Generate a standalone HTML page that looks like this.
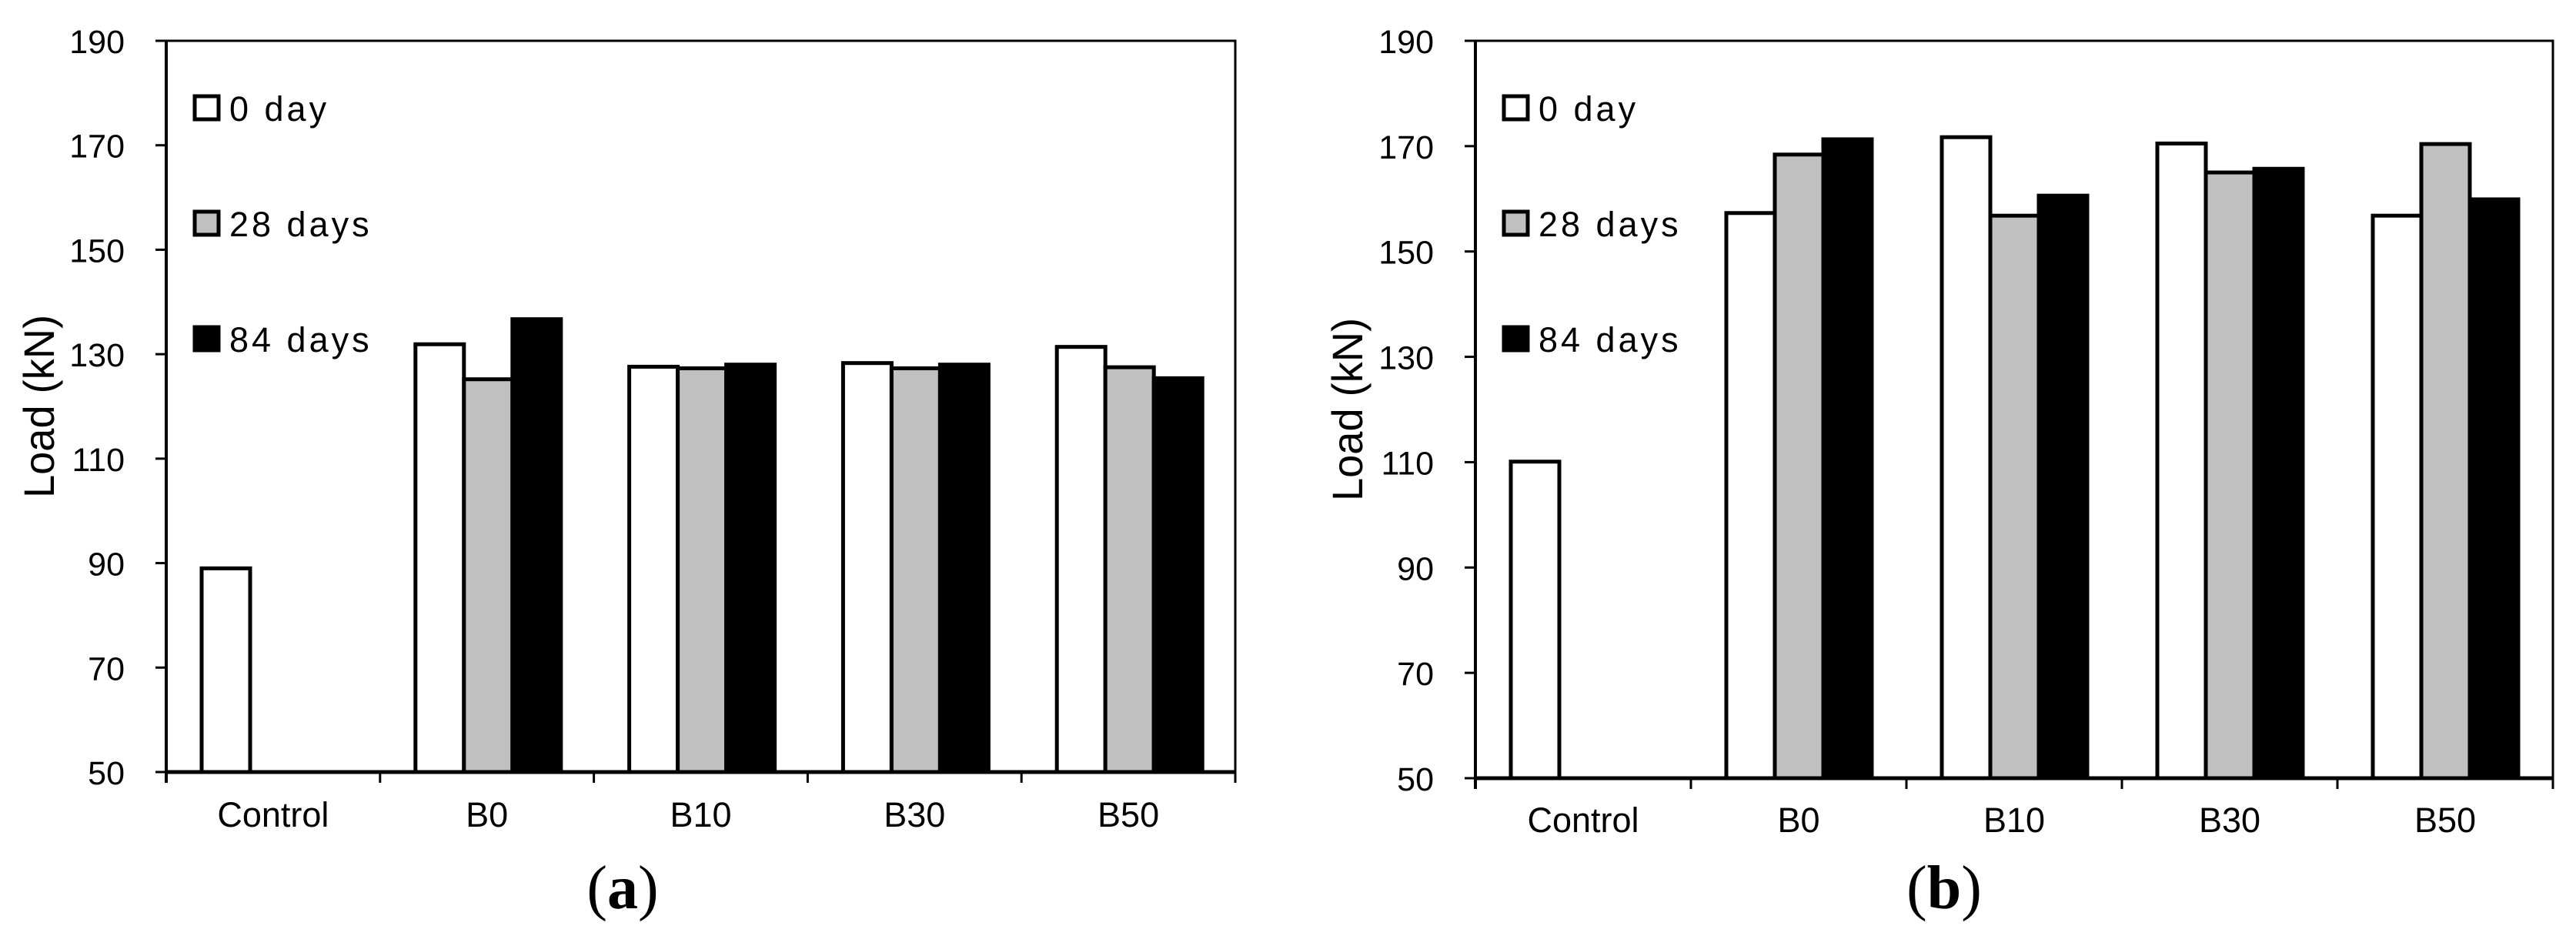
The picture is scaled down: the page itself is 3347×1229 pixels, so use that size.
<!DOCTYPE html>
<html><head><meta charset="utf-8"><style>
html,body{margin:0;padding:0;background:#fff;}
svg{display:block;}
text{font-family:"Liberation Sans",sans-serif;fill:#000;}
</style></head><body>
<svg id="fig" width="3347" height="1229" viewBox="0 0 3347 1229" xmlns="http://www.w3.org/2000/svg"></svg>
<script>
const categories = ["Control","B0","B10","B30","B50"];
const seriesNames = ["0 day","28 days","84 days"];
const seriesFill = ["#ffffff","#c0c0c0","#000000"];
const yTicks = [50,70,90,110,130,150,170,190];
const aDay0  = [89.0,131.9,127.6,128.3,131.4];
const aDay28 = [null,125.2,127.3,127.3,127.5];
const aDay84 = [null,136.7,128.0,128.0,125.4];
const bDay0  = [110.1,157.3,171.7,170.5,156.8];
const bDay28 = [null,168.4,156.8,165.0,170.4];
const bDay84 = [null,171.3,160.6,165.7,159.9];

const NS="http://www.w3.org/2000/svg";
const svg=document.getElementById('fig');
function mk(tag,attrs,parent){const e=document.createElementNS(NS,tag);for(const k in attrs)e.setAttribute(k,attrs[k]);(parent||svg).appendChild(e);return e;}

function drawChart(cfg,series,id){
  const g=mk('g',{});
  
  
  const x0=cfg.x0, x1=cfg.x1, yTop=cfg.yTop, yBot=cfg.yBot;
  const ymin=yTicks[0], ymax=yTicks[yTicks.length-1];
  const yS=v=>yBot-(v-ymin)/(ymax-ymin)*(yBot-yTop);
  const cw=(x1-x0)/categories.length;
  const xS=i=>x0+i*cw;
  // frame
  const fr=mk('rect',{x:x0,y:yTop,width:x1-x0,height:yBot-yTop,fill:'none',stroke:'#000','stroke-width':3},g);
  
  
  // bars
  const bw=63, off=46;
  series.forEach((arr,s)=>{
    arr.forEach((v,i)=>{
      if(v===null)return;
      const r=mk('rect',{x:xS(i)+off+s*bw,y:yS(v),width:bw,height:yBot-yS(v),fill:seriesFill[s],stroke:'#000','stroke-width':5},g);
      
      
    });
  });
  // axes
  const ya=mk('line',{x1:x0,y1:yTop,x2:x0,y2:yBot+14,stroke:'#000','stroke-width':4},g);
  
  
  const xa=mk('line',{x1:x0,y1:yBot,x2:x1,y2:yBot,stroke:'#000','stroke-width':5},g);
  
  
  yTicks.forEach(t=>{
    mk('line',{x1:x0-14,y1:yS(t),x2:x0,y2:yS(t),stroke:'#000','stroke-width':3},g);
    const tl=mk('text',{x:x0-54,y:yS(t)+16,'text-anchor':'end','font-size':43},g);
    tl.textContent=t;
    
    
  });
  for(let i=0;i<=categories.length;i++){
    mk('line',{x1:xS(i),y1:yBot,x2:xS(i),y2:yBot+14,stroke:'#000','stroke-width':3},g);
  }
  categories.forEach((c,i)=>{
    const t=mk('text',{x:xS(i)+cw/2,y:cfg.catBase,'text-anchor':'middle','font-size':45},g);
    t.textContent=c;
    
    
  });
  const yt=mk('text',{x:0,y:0,'text-anchor':'middle','font-size':56,textLength:238,lengthAdjust:'spacingAndGlyphs',transform:`translate(${cfg.titleX},${(yTop+yBot)/2}) rotate(-90)`},g);
  yt.textContent='Load (kN)';
  
  
  // legend
  seriesNames.forEach((n,s)=>{
    const cy=140+s*150;
    const b=mk('rect',{x:cfg.legX,y:cy-15,width:31,height:30,fill:seriesFill[s],stroke:'#000','stroke-width':5},g);
    
    
    const t=mk('text',{x:cfg.legX+45,y:cy+17,'font-size':45,'letter-spacing':4},g);
    t.textContent=n;
    
    
  });
  const p=mk('text',{x:cfg.panelX,y:1180,'text-anchor':'middle','font-size':80,style:'font-family:"Liberation Serif",serif'},g);
  p.innerHTML='(<tspan font-weight="bold">'+id+'</tspan>)';
  
  
}

drawChart({x0:216,x1:1605,yTop:53,yBot:1003,catBase:1074,titleX:70,legX:253,panelX:809},[aDay0,aDay28,aDay84],'a');
drawChart({x0:1917,x1:3317,yTop:53,yBot:1011,catBase:1081,titleX:1770,legX:1954,panelX:2526},[bDay0,bDay28,bDay84],'b');
</script>
</body></html>
